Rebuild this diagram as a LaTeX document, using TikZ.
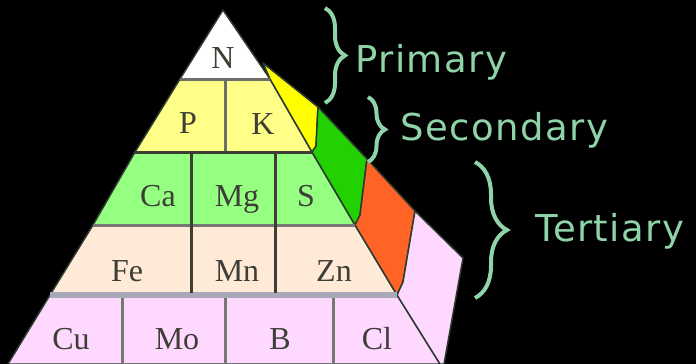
\documentclass[tikz,border=0pt]{standalone}
\usepackage{fontspec}
\setmainfont{Liberation Serif}
\newfontfamily\levelfont[LetterSpace=4]{DejaVu Sans}
\usetikzlibrary{decorations.pathreplacing}
\definecolor{rowN}{HTML}{FFFFFF}
\definecolor{rowPK}{HTML}{FFFF88}
\definecolor{rowCa}{HTML}{94FF80}
\definecolor{rowFe}{HTML}{FFEAD8}
\definecolor{rowCu}{HTML}{FFD8FF}
\definecolor{sideY}{HTML}{FFFF00}
\definecolor{sideG}{HTML}{22D200}
\definecolor{sideO}{HTML}{FF6426}
\definecolor{edge}{HTML}{2C3A30}
\definecolor{ink}{HTML}{3E3E36}
\definecolor{lvl}{HTML}{8ED4A8}
\definecolor{lowsep}{HTML}{A8A8B8}

\begin{document}
\begin{tikzpicture}[x=1pt, y=-1pt,
  face/.style={draw=edge, line width=1.5pt, line join=round},
  sep/.style={line width=3pt},
  elem/.style={font=\fontsize{32}{32}\selectfont, text=ink, inner sep=0pt, anchor=base},
  level/.style={font=\levelfont\fontsize{37}{37}\selectfont, text=lvl,
                inner sep=0pt, anchor=base west},
  lvlbrace/.style={draw=lvl, line width=4pt, decorate,
                   decoration={brace, amplitude=#1}}
]
\fill[black] (0,0) rectangle (696,364);
\useasboundingbox (0,0) rectangle (696,364);

% front face of the pyramid
\coordinate (apex) at (223,10);
\coordinate (l1) at (180,79);  \coordinate (r1) at (270,79);
\coordinate (l2) at (135,152); \coordinate (r2) at (312,152);
\coordinate (l3) at (93,225);  \coordinate (r3) at (355,225);
\coordinate (l4) at (50,295);  \coordinate (r4) at (397,295);
\coordinate (l5) at (8,364);   \coordinate (r5) at (440,364);

\filldraw[face, fill=rowN]  (apex) -- (r1) -- (l1) -- cycle;
\filldraw[face, fill=rowPK] (l1) -- (r1) -- (r2) -- (l2) -- cycle;
\filldraw[face, fill=rowCa] (l2) -- (r2) -- (r3) -- (l3) -- cycle;
\filldraw[face, fill=rowFe] (l3) -- (r3) -- (r4) -- (l4) -- cycle;
\filldraw[face, fill=rowCu] (l4) -- (r4) -- (r5) -- (l5) -- cycle;

% side faces
\coordinate (y1) at (263,63);  \coordinate (y2) at (318,107); \coordinate (y3) at (316,146);
\coordinate (g2) at (367,159); \coordinate (g3) at (360,215);
\coordinate (o2) at (415,211); \coordinate (o3) at (403,282);
\coordinate (p2) at (463,258); \coordinate (p3) at (444,364);

\filldraw[face, fill=sideY] (y1) -- (y2) -- (y3) -- (r2) -- (r1) -- cycle;
\filldraw[face, fill=sideG] (y2) -- (g2) -- (g3) -- (r3) -- (r2) -- (y3) -- cycle;
\filldraw[face, fill=sideO] (g2) -- (o2) -- (o3) -- (r4) -- (r3) -- (g3) -- cycle;
\filldraw[face, fill=rowCu] (o2) -- (p2) -- (p3) -- (r5) -- (r4) -- (o3) -- cycle;

% row and cell lines
\draw[sep, draw=ink!75]         (l1) -- (r1);
\draw[sep, draw=ink]            (l2) -- (r2);
\draw[sep, draw=ink!70]         (l3) -- (r3);
\draw[line width=6pt, draw=lowsep] (l4) -- (r4);
\draw[sep, draw=ink!75] (225,80) -- (225,151);
\draw[sep, draw=ink]    (191,153) -- (191,293);
\draw[sep, draw=ink]    (275,153) -- (275,293);
\draw[sep, draw=ink!70] (122,298) -- (122,364);
\draw[sep, draw=ink!70] (225,298) -- (225,364);
\draw[sep, draw=ink!70] (333,298) -- (333,364);

% nutrients
\node[elem] (n)  at (223,68)  {N};
\node[elem] (p)  at (188,133) {P};
\node[elem] (k)  at (263,134) {K};
\node[elem] (ca) at (158,206) {Ca};
\node[elem] (mg) at (237,206) {Mg};
\node[elem] (s)  at (306,206) {S};
\node[elem] (fe) at (127,281) {Fe};
\node[elem] (mn) at (237,281) {Mn};
\node[elem] (zn) at (334,281) {Zn};
\node[elem] (cu) at (71,349)  {Cu};
\node[elem] (mo) at (177,349) {Mo};
\node[elem] (b)  at (280,349) {B};
\node[elem] (cl) at (377,349) {Cl};

% levels
\coordinate (pTop) at (325,8);   \coordinate (pBot) at (325,103);
\coordinate (sTop) at (368,97);  \coordinate (sBot) at (368,162);
\coordinate (tTop) at (475,162); \coordinate (tBot) at (475,298);
\draw[lvlbrace=20pt] (pTop) -- (pBot);
\draw[lvlbrace=17pt] (sTop) -- (sBot);
\draw[lvlbrace=32pt] (tTop) -- (tBot);
\node[level] (primary)   at (355,72)  {Primary};
\node[level] (secondary) at (400,140) {Secondary};
\node[level] (tertiary)  at (535,241) {Tertiary};
\end{tikzpicture}
\end{document}
